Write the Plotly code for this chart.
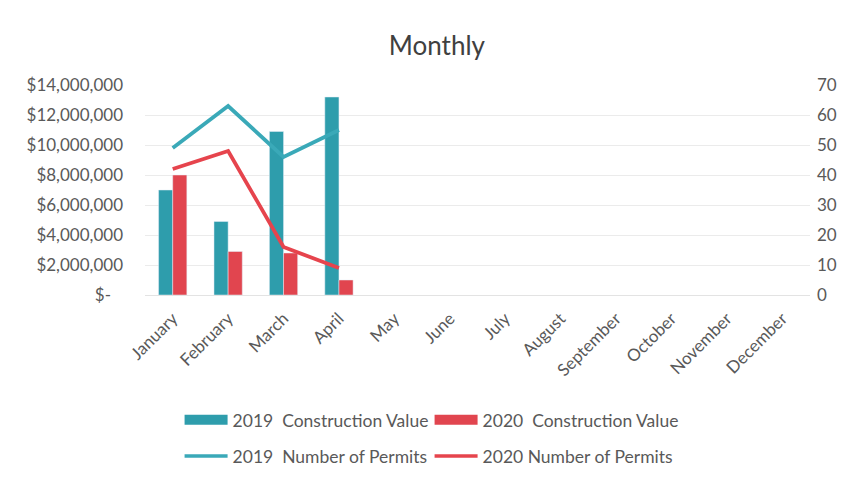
import plotly.graph_objects as go
from plotly.subplots import make_subplots

months = ["January", "February", "March", "April", "May", "June", "July",
          "August", "September", "October", "November", "December"]
value_2019 = [7000000, 4900000, 10900000, 13200000, None, None, None, None, None, None, None, None]
value_2020 = [8000000, 2900000, 2800000, 1000000, None, None, None, None, None, None, None, None]
permits_2019 = [49, 63, 46, 55, None, None, None, None, None, None, None, None]
permits_2020 = [42, 48, 16, 9, None, None, None, None, None, None, None, None]

left_ticks = [0, 2000000, 4000000, 6000000, 8000000, 10000000, 12000000, 14000000]
left_labels = ["$-\u2007\u2009", "$2,000,000", "$4,000,000", "$6,000,000",
               "$8,000,000", "$10,000,000", "$12,000,000", "$14,000,000"]
right_ticks = [0, 10, 20, 30, 40, 50, 60, 70]

TEAL = "#2E9DAC"
RED = "#E1454F"
LINE_TEAL = "#3AA9B8"
LINE_RED = "#E6444D"
FONT = "Lato, Open Sans, sans-serif"
GRAY = "#595959"

fig = make_subplots(specs=[[{"secondary_y": True}]])
fig.add_trace(go.Bar(x=months, y=value_2019, name="2019  Construction Value",
                     marker_color=TEAL, showlegend=False), secondary_y=False)
fig.add_trace(go.Bar(x=months, y=value_2020, name="2020  Construction Value",
                     marker_color=RED, showlegend=False), secondary_y=False)
fig.add_trace(go.Scatter(x=months, y=permits_2019, name="2019  Number of Permits",
                         mode="lines", line=dict(color=LINE_TEAL, width=3.8),
                         showlegend=False), secondary_y=True)
fig.add_trace(go.Scatter(x=months, y=permits_2020, name="2020 Number of Permits",
                         mode="lines", line=dict(color=LINE_RED, width=3.8),
                         showlegend=False), secondary_y=True)

# legend entries (no data): wide bar swatches and line swatches
fig.add_trace(go.Scatter(x=[None], y=[None], mode="lines", name="2019  Construction Value",
                         line=dict(color=TEAL, width=10), legend="legend"))
fig.add_trace(go.Scatter(x=[None], y=[None], mode="lines", name="2020  Construction Value",
                         line=dict(color=RED, width=10), legend="legend"))
fig.add_trace(go.Scatter(x=[None], y=[None], mode="lines", name="2019  Number of Permits",
                         line=dict(color=LINE_TEAL, width=3.5), legend="legend2"))
fig.add_trace(go.Scatter(x=[None], y=[None], mode="lines", name="2020 Number of Permits",
                         line=dict(color=LINE_RED, width=3.5), legend="legend2"))

leg_common = dict(orientation="h", x=0.052, xanchor="left", yanchor="middle",
                  font=dict(size=17.5, color=GRAY), traceorder="normal",
                  itemwidth=43, entrywidth=192, entrywidthmode="pixels",
                  bgcolor="rgba(0,0,0,0)")

fig.update_layout(
    width=860, height=483,
    margin=dict(l=145, r=50, t=85, b=188, autoexpand=False),
    paper_bgcolor="white", plot_bgcolor="white",
    font=dict(family=FONT, size=17, color=GRAY),
    title=dict(text="Monthly", x=0.508, xanchor="center", y=0.905, yanchor="middle",
               font=dict(family=FONT, size=26, color="#404040")),
    barmode="group", bargap=0.49, bargroupgap=0,
    legend=dict(y=-0.595, **leg_common),
    legend2=dict(y=-0.767, **leg_common),
)
fig.update_xaxes(domain=[0, 1], tickangle=-45, showgrid=False, showline=True,
                 linecolor="#E3E3E3", ticks="", ticklabelstandoff=6,
                 tickfont=dict(size=17, color=GRAY))
fig.update_yaxes(range=[0, 14000000], tickvals=left_ticks, ticktext=left_labels,
                 showgrid=True, gridcolor="#EBEBEB", zeroline=False, ticks="",
                 ticklabelstandoff=21,
                 tickfont=dict(size=17, color=GRAY), secondary_y=False)
fig.update_yaxes(range=[0, 70], tickvals=right_ticks, showgrid=False, zeroline=False,
                 ticks="", ticklabelstandoff=6,
                 tickfont=dict(size=17, color=GRAY), secondary_y=True)

fig.write_html("out.html", config={"displayModeBar": False},
               post_script="document.body.style.margin='0';")
